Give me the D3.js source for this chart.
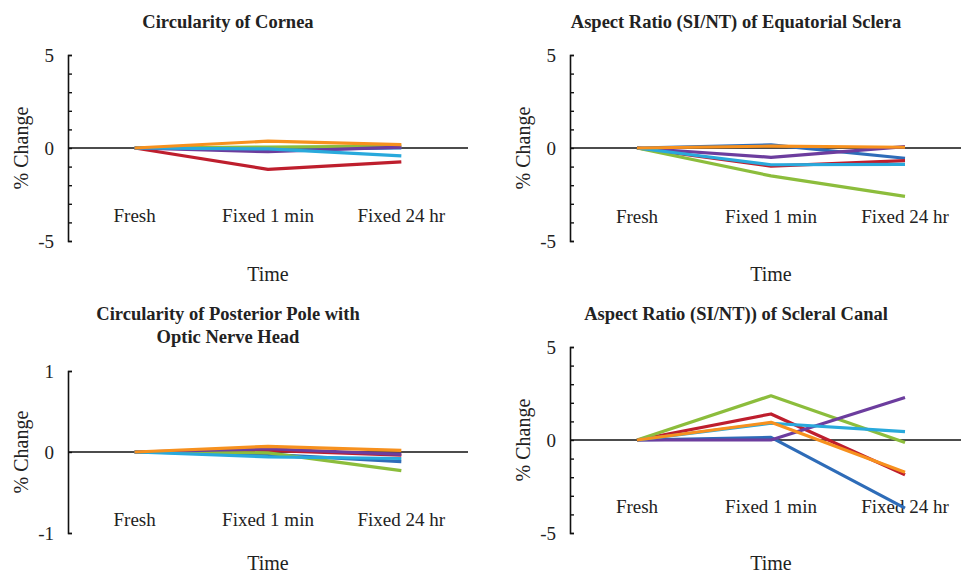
<!DOCTYPE html>
<html>
<head>
<meta charset="utf-8">
<script src="https://cdn.jsdelivr.net/npm/d3@7"></script>
<style>
  body { margin: 0; background: #fff; }
  text { font-family: "Liberation Serif", "Times New Roman", serif; fill: #222; }
</style>
</head>
<body>
<svg id="chart" width="961" height="575"></svg>
<script>
// categories on the x axis
var categories = ["Fresh", "Fixed 1 min", "Fixed 24 hr"];
// six specimens, plotted in this order (last one on top)
var seriesNames = ["S1", "S2", "S3", "S4", "S5", "S6"];
var seriesColors = ["#2e6cb8", "#be1e2d", "#8cbd3c", "#6c3d9e", "#29a9dc", "#f7911e"];

// % change values, one row per series
var corneaValues = [
    [0, -0.08, 0.0],
    [0, -1.15, -0.75],
    [0, 0.05, 0.1],
    [0, -0.2, 0.05],
    [0, -0.05, -0.42],
    [0, 0.37, 0.18]
];
var equatorValues = [
    [0, 0.17, -0.55],
    [0, -0.97, -0.68],
    [0, -1.5, -2.6],
    [0, -0.5, 0.07],
    [0, -0.9, -0.88],
    [0, 0.1, 0.04]
];
var poleValues = [
    [0, -0.03, -0.12],
    [0, 0.02, -0.04],
    [0, -0.01, -0.23],
    [0, 0.04, -0.03],
    [0, -0.06, -0.08],
    [0, 0.07, 0.02]
];
var canalValues = [
    [0, 0.14, -3.66],
    [0, 1.4, -1.87],
    [0, 2.38, -0.13],
    [0, 0, 2.29],
    [0, 0.9, 0.45],
    [0, 0.95, -1.74]
];

var yTicks5 = [-5, -4, -3, -2, -1, 0, 1, 2, 3, 4, 5];
var yTicks1 = [-1, 0, 1];

var panels = [
    {title: ["Circularity of Cornea"], values: corneaValues, domain: [-5, 5], ticks: yTicks5, labels: [-5, 0, 5],
     ax: 68, xEnd: 468, yTop: 55, yBot: 241, titleX: 228, titleY: 28, catY: 222, timeY: 281, lineEnd: 468},
    {title: ["Aspect Ratio (SI/NT) of Equatorial Sclera"], values: equatorValues, domain: [-5, 5], ticks: yTicks5, labels: [-5, 0, 5],
     ax: 570, xEnd: 972, yTop: 55, yBot: 241, titleX: 736, titleY: 28, catY: 223, timeY: 281, lineEnd: 972},
    {title: ["Circularity of Posterior Pole with", "Optic Nerve Head"], values: poleValues, domain: [-1, 1], ticks: yTicks1, labels: [-1, 0, 1],
     ax: 68, xEnd: 468, yTop: 371, yBot: 533, titleX: 228, titleY: 320, catY: 526, timeY: 570, lineEnd: 468},
    {title: ["Aspect Ratio (SI/NT)) of Scleral Canal"], values: canalValues, domain: [-5, 5], ticks: yTicks5, labels: [-5, 0, 5],
     ax: 570, xEnd: 972, yTop: 347, yBot: 533, titleX: 736, titleY: 320, catY: 513, timeY: 570, lineEnd: 972}
];

var svg = d3.select("#chart");

panels.forEach(function(p) {
    var g = svg.append("g");

    var x = d3.scalePoint().domain(categories).range([p.ax, p.xEnd]).padding(0.5);
    var y = d3.scaleLinear().domain(p.domain).range([p.yBot, p.yTop]);

    // title
    p.title.forEach(function(t, i) {
        g.append("text")
            .attr("x", p.titleX)
            .attr("y", p.titleY + i * 23)
            .attr("text-anchor", "middle")
            .style("font-size", "18.5px")
            .style("font-weight", "bold")
            .text(t);
    });

    // y axis with inward ticks
    var yAxis = g.append("g")
        .attr("transform", "translate(" + p.ax + ",0)")
        .call(d3.axisLeft(y)
            .tickValues(p.ticks)
            .tickSize(-4)
            .tickPadding(14)
            .tickFormat(function(d) { return p.labels.indexOf(d) >= 0 ? d : ""; }));
    yAxis.select(".domain").attr("stroke", "#111").attr("stroke-width", 1.6);
    yAxis.selectAll(".tick line").attr("stroke", "#111").attr("stroke-width", 1.4);
    yAxis.selectAll(".tick text")
        .style("font-size", "19px")
        .style("font-family", "'Liberation Serif', serif")
        .attr("fill", "#222");

    // y axis title
    g.append("text")
        .attr("transform", "translate(" + (p.ax - 47) + "," + ((p.yTop + p.yBot) / 2) + ") rotate(-90)")
        .attr("text-anchor", "middle")
        .attr("dy", "0.35em")
        .style("font-size", "20px")
        .text("% Change");

    // zero line (horizontal axis)
    g.append("line")
        .attr("x1", p.ax).attr("x2", p.lineEnd)
        .attr("y1", y(0)).attr("y2", y(0))
        .attr("stroke", "#111")
        .attr("stroke-width", 1.6);

    // category labels (low position)
    g.selectAll(".cat")
        .data(categories)
        .enter()
        .append("text")
        .attr("class", "cat")
        .attr("x", d => x(d))
        .attr("y", p.catY)
        .attr("text-anchor", "middle")
        .style("font-size", "19px")
        .text(d => d);

    // x axis title
    g.append("text")
        .attr("x", x(categories[1]))
        .attr("y", p.timeY)
        .attr("text-anchor", "middle")
        .style("font-size", "20px")
        .text("Time");

    // series lines
    var line = d3.line()
        .x((d, i) => x(categories[i]))
        .y(d => y(d));

    g.selectAll(".series")
        .data(p.values)
        .enter()
        .append("path")
        .attr("class", "series")
        .attr("d", d => line(d))
        .attr("fill", "none")
        .attr("stroke", (d, i) => seriesColors[i])
        .attr("stroke-width", 3.2)
        .attr("stroke-linejoin", "round");
});
</script>
</body>
</html>
